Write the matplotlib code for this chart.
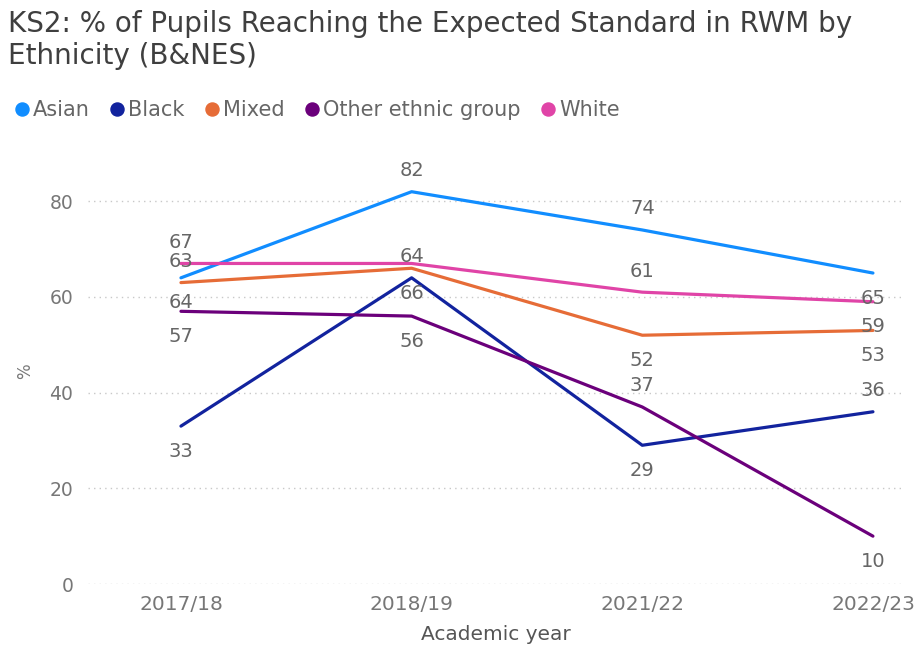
import matplotlib
matplotlib.use('Agg')
import matplotlib.pyplot as plt
from matplotlib.lines import Line2D

plt.rcParams['font.family'] = ['DejaVu Sans']

years = ['2017/18', '2018/19', '2021/22', '2022/23']
series_names = ['Asian', 'Black', 'Mixed', 'Other ethnic group', 'White']
asian = [64, 82, 74, 65]
black = [33, 64, 29, 36]
mixed = [63, 66, 52, 53]
other = [57, 56, 37, 10]
white = [67, 67, 61, 59]
y_ticks = [0, 20, 40, 60, 80]

values = [asian, black, mixed, other, white]
colors = ['#118DFF', '#12239E', '#E66C37', '#6B007B', '#E044A7']

# where each data label sits: 'a' above, 'b' below, None hidden
label_pos = {
  'Asian': ['b', 'a', 'a', 'b'],
  'Black': ['b', 'a', 'b', 'a'],
  'Mixed': ['a', 'b', 'b', 'b'],
  'Other ethnic group': ['b', 'b', 'a', 'b'],
  'White': ['a', None, 'a', 'b'],
}
offsets = {'a': 21, 'b': -25}

W, H = 915, 650
fig = plt.figure(figsize=(W / 100, H / 100), dpi=100)
ax = fig.add_axes([88 / W, 1 - 584 / H, 817 / W, (584 - 163) / H])

x = list(range(len(years)))
for name, vals, col in zip(series_names, values, colors):
  ax.plot(x, vals, color=col, linewidth=2.3, solid_capstyle='round', solid_joinstyle='round')
  for i, v in enumerate(vals):
    pos = label_pos[name][i]
    if pos is None:
      continue
    ax.annotate(str(v), (x[i], v), xytext=(0, offsets[pos]), textcoords='offset pixels',
                ha='center', va='center', fontsize=14, color='#666666')

ax.set_xlim(-0.403, 3.139)
ax.set_ylim(0, 88)
ax.set_yticks(y_ticks)
ax.set_xticks(x)
ax.set_xticklabels(years)
ax.grid(axis='y', linestyle=(0, (1, 3)), color='#C8C8C8', linewidth=1)
ax.set_axisbelow(True)
for s in ax.spines.values():
  s.set_visible(False)
ax.tick_params(axis='both', length=0, colors='#777777')
ax.tick_params(axis='y', pad=10.5, labelsize=13.5)
ax.tick_params(axis='x', pad=8, labelsize=14.5)
ax.set_xlabel('Academic year', fontsize=14.5, color='#555555', va='center')
ax.xaxis.set_label_coords(496 / W, 1 - 634 / H, transform=fig.transFigure)
ax.set_ylabel('%', fontsize=12, color='#777777', va='center')
ax.yaxis.set_label_coords(25 / W, 1 - 371 / H, transform=fig.transFigure)

fig.text(8 / W, 1 - 10 / H, 'KS2: % of Pupils Reaching the Expected Standard in RWM by\nEthnicity (B&NES)',
         fontsize=20, color='#3F3F3F', va='top', ha='left', linespacing=1.2)

handles = [Line2D([], [], marker='o', linestyle='none', markersize=9.4, color=c) for c in colors]
fig.legend(handles, series_names, loc='center left', bbox_to_anchor=(15 / W, 1 - 110 / H),
           ncol=5, frameon=False, handlelength=0.65, handletextpad=0.2, columnspacing=1.0,
           fontsize=15, labelcolor='#666666', borderaxespad=0, borderpad=0)

fig.savefig('out.png', dpi=100)
